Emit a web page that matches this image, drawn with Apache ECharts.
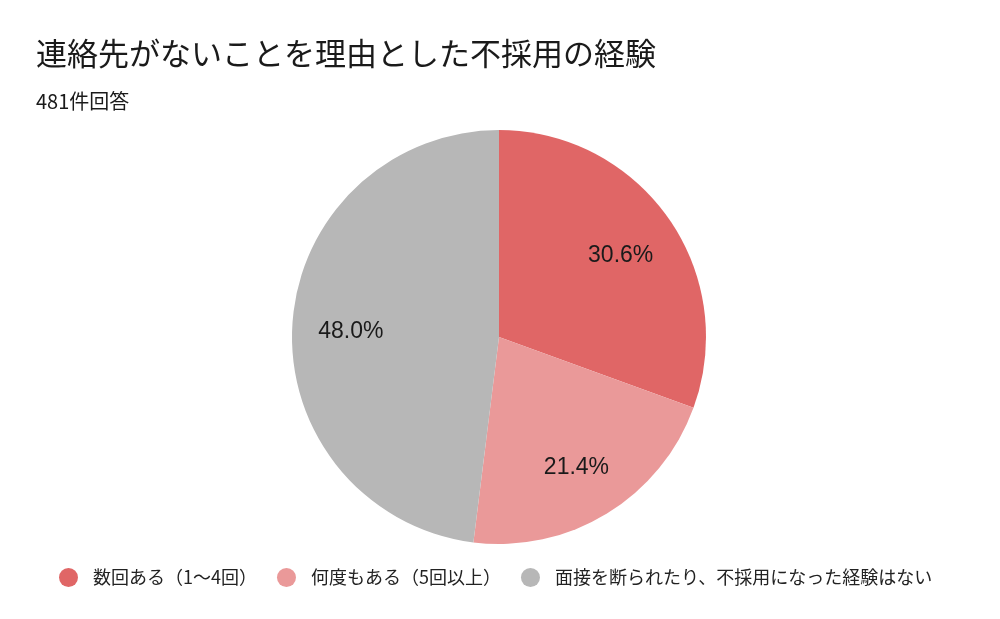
<!DOCTYPE html>
<html>
<head>
<meta charset="utf-8">
<script src="https://cdn.jsdelivr.net/npm/echarts@6/dist/echarts.min.js"></script>
<style>
  html, body { margin: 0; padding: 0; background: #fff; }
  #myChart { width: 1000px; height: 619px; }
</style>
</head>
<body>
<div id="myChart"></div>
<script>
// answers out of 481
var categories = ['数回ある（1〜4回）', '何度もある（5回以上）', '面接を断られたり、不採用になった経験はない'];
var counts = [147, 103, 231];
var colors = ['#e06666', '#ea9999', '#b7b7b7'];

var font = '"Noto Sans CJK JP", "Liberation Sans", Arial, sans-serif';
var numFont = '"Liberation Sans", Arial, sans-serif';

var pieData = categories.map(function (name, i) {
	return { name: name, value: counts[i], itemStyle: { color: colors[i] } };
});

var myChart = echarts.init(document.getElementById('myChart'));

var option = {
	animation: false,
	title: [
		{
			text: '連絡先がないことを理由とした不採用の経験',
			left: 31,
			top: 33,
			textStyle: { fontFamily: font, fontSize: 31, fontWeight: 'normal', color: '#1a1a1a' }
		},
		{
			text: '481件回答',
			left: 31,
			top: 86,
			textStyle: { fontFamily: font, fontSize: 20, fontWeight: 'normal', color: '#1a1a1a' }
		}
	],
	legend: {
		data: categories,
		left: 54,
		top: 563,
		icon: 'circle',
		itemWidth: 19,
		itemHeight: 19,
		itemGap: 20,
		textStyle: { fontFamily: font, fontSize: 18, color: '#222', padding: [0, 0, 0, 10] }
	},
	series: [
		{
			name: 'pie',
			type: 'pie',
			center: [499, 337],
			radius: [0, 207],
			startAngle: 90,
			clockwise: true,
			label: { show: false },
			labelLine: { show: false },
			emphasis: { disabled: true },
			data: pieData
		},
		{
			// transparent ring only used to place the percent labels further out
			name: 'labels',
			type: 'pie',
			center: [499, 337],
			radius: [84, 207],
			startAngle: 90,
			clockwise: true,
			silent: true,
			itemStyle: { color: 'rgba(0,0,0,0)' },
			label: {
				show: true,
				position: 'inside',
				formatter: function (p) { return p.percent.toFixed(1) + '%'; },
				fontFamily: numFont,
				fontSize: 23,
				color: '#1a1a1a',
				offset: [0, 4]
			},
			labelLine: { show: false },
			emphasis: { disabled: true },
			data: counts.map(function (v, i) { return { name: categories[i] + ' ', value: v }; })
		}
	]
};

myChart.setOption(option);
</script>
</body>
</html>
